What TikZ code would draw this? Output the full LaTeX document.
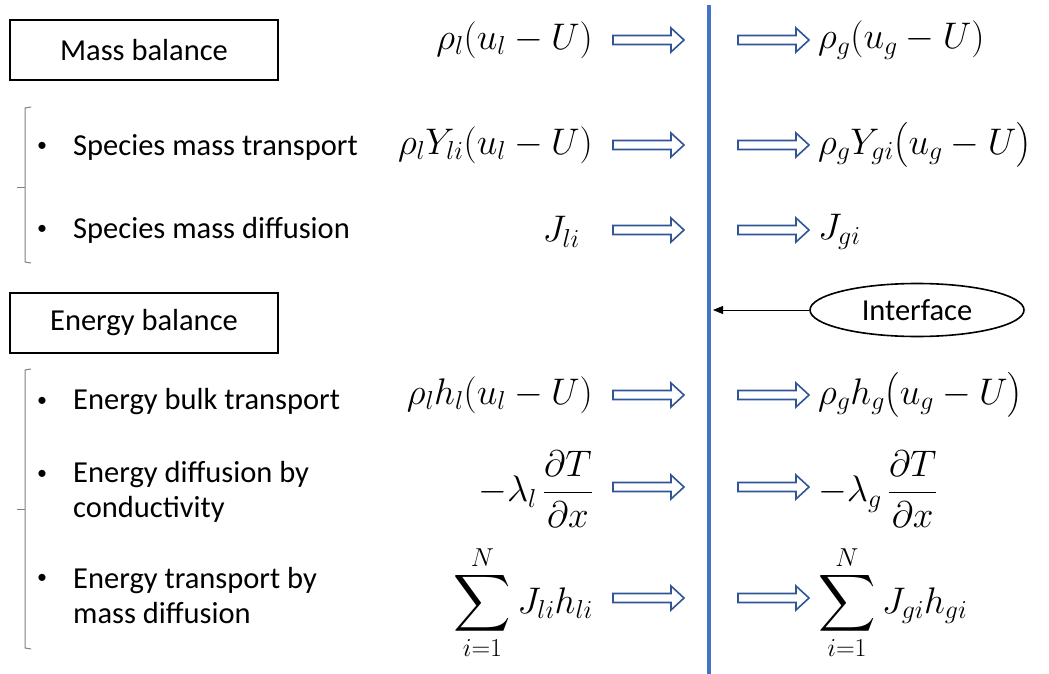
\RequirePackage{fix-cm}
\documentclass[tikz,border=0pt]{standalone}
\usepackage{amsmath}
\usepackage[no-math]{fontspec}
\setmainfont{Carlito}
\usetikzlibrary{arrows.meta,positioning,shapes.geometric}
\definecolor{wallblue}{RGB}{68,114,196}
\definecolor{fluxblue}{RGB}{47,85,151}
\newcommand{\txtsz}{\fontsize{30.5}{35}\selectfont}
\newcommand{\mathsz}{\fontsize{37}{42}\selectfont}
\newcommand{\bigsum}{\mathop{\vcenter{\hbox{\scalebox{1.6}{$\displaystyle\sum$}}}}\limits}

\begin{document}
\begin{tikzpicture}[x=1pt, y=-1pt,
  every node/.style={font=\txtsz, inner sep=0pt},
  titlebox/.style={draw, line width=2pt, minimum width=268pt, minimum height=60pt},
  bracketline/.style={gray, line width=1pt},
  item/.style={anchor=west, align=left},
  lhs/.style={anchor=east, font=\mathsz},
  rhs/.style={anchor=west, font=\mathsz},
  flux/.style={draw=fluxblue, line width=1.6pt, fill=white, line join=miter}]
  \useasboundingbox (0,0) rectangle (1049,674);

  % left column: headings and items
  \node[titlebox] (mass) at (144,50) {Mass balance};
  \node[titlebox] (energy) at (144,323) {Energy balance};

  \draw[bracketline] (31,107) -- (25,108) -- (25,262) -- (31,263);
  \draw[bracketline] (25,187) -- (17,187);
  \draw[bracketline] (31,369) -- (25,370) -- (25,648) -- (31,649);
  \draw[bracketline] (25,509) -- (17,509);

  \foreach \y in {147,230,402,475,579}
    \node at (42,\y) {\fontsize{20}{20}\selectfont\textbullet};
  \node[item] (spt) at (73,147) {Species mass transport};
  \node[item] (spd) at (73,230) {Species mass diffusion};
  \node[item] (ebt) at (73,402) {Energy bulk transport};
  \node[item] (edc) at (73,492) {Energy diffusion by\\conductivity};
  \node[item] (etm) at (73,596) {Energy transport by\\mass diffusion};

  % the interface
  \coordinate (wtop) at (709,5);
  \coordinate (wbot) at (709,674);
  \draw[wallblue, line width=4pt] (wtop) -- (wbot);

  % fluxes on both sides
  \foreach \y in {40,145,230,395,487,598} {
    \foreach \x in {613,738} {
      \draw[flux] ({\x},{\y-4.5}) -- ({\x+58},{\y-4.5}) -- ({\x+58},{\y-12})
        -- ({\x+71},{\y}) -- ({\x+58},{\y+12}) -- ({\x+58},{\y+4.5})
        -- ({\x},{\y+4.5}) -- cycle;
    }
  }

  \node[lhs] (ml) at (593,40) {$\rho_l(u_l-U)$};
  \node[lhs] (yl) at (593,145) {$\rho_lY_{li}(u_l-U)$};
  \node[lhs] (jl) at (580,232) {$J_{li}$};
  \node[lhs] (hl) at (593,395) {$\rho_lh_l(u_l-U)$};
  \node[lhs] (cl) at (593,489) {$-\lambda_l\,\dfrac{\partial T}{\partial x}$};
  \node[lhs] (sl) at (593,603) {$\bigsum_{i=1}^{N}J_{li}h_{li}$};

  \node[rhs] (mg) at (818,40) {$\rho_g(u_g-U)$};
  \node[rhs] (yg) at (818,145) {$\rho_gY_{gi}\bigl(u_g-U\bigr)$};
  \node[rhs] (jg) at (818,232) {$J_{gi}$};
  \node[rhs] (hg) at (818,395) {$\rho_gh_g\bigl(u_g-U\bigr)$};
  \node[rhs] (cg) at (818,489) {$-\lambda_g\,\dfrac{\partial T}{\partial x}$};
  \node[rhs] (sg) at (818,603) {$\bigsum_{i=1}^{N}J_{gi}h_{gi}$};

  \node[ellipse, draw, line width=1.6pt, minimum width=214pt, minimum height=53pt]
    (iface) at (917,310) {Interface};
  \coordinate (hit) at (713,310);
  \draw[-{Triangle[length=10pt,width=8pt]}, line width=0.8pt] (iface.west) -- (hit);
\end{tikzpicture}
\end{document}
